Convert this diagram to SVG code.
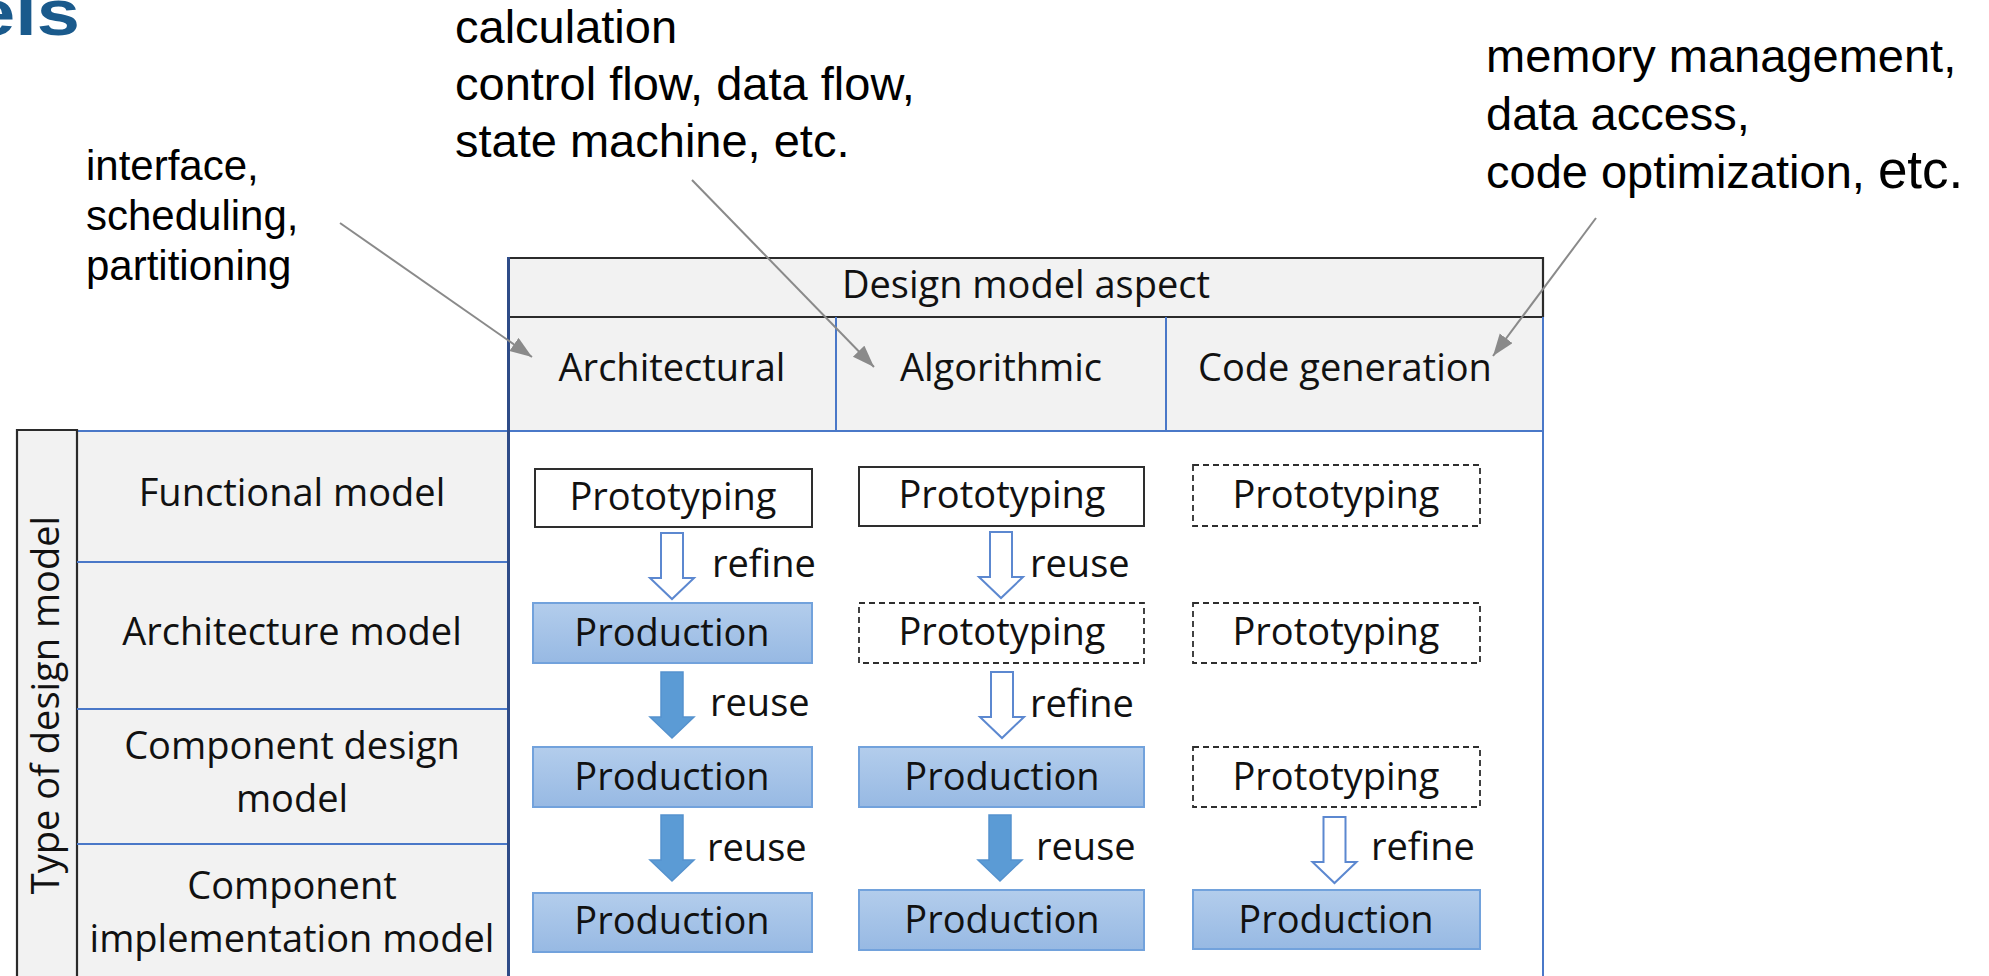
<svg xmlns="http://www.w3.org/2000/svg" width="1989" height="976" viewBox="0 0 1989 976">
  <style>
    .tbl { font-family: "Open Sans", "Noto Sans", sans-serif; font-size: 38px; fill: #111111; }
    .mid { text-anchor: middle; }
    .ann { font-family: "Liberation Sans", Arial, sans-serif; fill: #000000; }
    .cell { fill: #F2F2F2; stroke: none; }
    .blue-line { stroke: #4A78C8; stroke-width: 2; fill: none; }
    .dark-line { stroke: #2B2B2B; stroke-width: 2.2; fill: none; }
    .proto { fill: #FFFFFF; stroke: #2E2E2E; stroke-width: 2; }
    .proto-dash { fill: #FFFFFF; stroke: #2E2E2E; stroke-width: 1.8; stroke-dasharray: 6 4; }
    .prod { fill: url(#prodFill); stroke: #72A2DC; stroke-width: 2; }
    .hollow { fill: #FFFFFF; stroke: #5C88D0; stroke-width: 2; stroke-linejoin: miter; }
    .solid { fill: #5B9BD5; stroke: #5592CE; stroke-width: 1.5; }
    .callout { stroke: #8A8A8A; stroke-width: 2; fill: none; marker-end: url(#calloutHead); }
  </style>
  <defs>
    <linearGradient id="prodFill" x1="0" y1="0" x2="0" y2="1">
      <stop offset="0" stop-color="#B3CDEC"/>
      <stop offset="1" stop-color="#97B9E3"/>
    </linearGradient>
    <marker id="calloutHead" markerUnits="userSpaceOnUse" markerWidth="24" markerHeight="18" refX="22" refY="8" orient="auto">
      <path d="M0,0 L22,8 L0,16 Z" fill="#8A8A8A"/>
    </marker>
    <!-- block arrow pointing down, centred on x=0, top edge at y=0 -->
    <path id="blockArrow" d="M-11,0 H11 V45 H22 L0,66 L-22,45 H-11 Z"/>
  </defs>

  <rect x="0" y="0" width="1989" height="976" fill="#FFFFFF"/>

  <!-- title fragment -->
  <text x="-28" y="35" font-family="Liberation Sans, Arial, sans-serif" font-weight="bold" font-size="64" fill="#1A5A8C" textLength="108" lengthAdjust="spacingAndGlyphs">els</text>

  <!-- annotations -->
  <g id="note-algorithmic" class="ann" font-size="47">
    <text x="455" y="43">calculation</text>
    <text x="455" y="100">control flow, data flow,</text>
    <text x="455" y="157">state machine, etc.</text>
  </g>
  <g id="note-architectural" class="ann" font-size="42">
    <text x="86" y="180">interface,</text>
    <text x="86" y="230">scheduling,</text>
    <text x="86" y="280">partitioning</text>
  </g>
  <g id="note-codegen" class="ann" font-size="47">
    <text x="1486" y="72">memory management,</text>
    <text x="1486" y="130">data access,</text>
    <text x="1486" y="188">code optimization, <tspan font-size="53">etc.</tspan></text>
  </g>

  <!-- table: column header block -->
  <g id="header">
    <rect class="cell" x="509" y="258" width="1034" height="173"/>
    <line class="dark-line" x1="508" y1="258" x2="1544" y2="258"/>
    <line class="dark-line" x1="508" y1="317" x2="1544" y2="317"/>
    <line class="dark-line" x1="1543" y1="257" x2="1543" y2="317"/>
    <line class="blue-line" x1="836" y1="317" x2="836" y2="431"/>
    <line class="blue-line" x1="1166" y1="317" x2="1166" y2="431"/>
    <text class="tbl mid" x="1026" y="298">Design model aspect</text>
  </g>
  <g id="col-architectural"><text class="tbl mid" x="672" y="381">Architectural</text></g>
  <g id="col-algorithmic"><text class="tbl mid" x="1001" y="381">Algorithmic</text></g>
  <g id="col-codegen"><text class="tbl mid" x="1345" y="381">Code generation</text></g>

  <!-- table: row header block -->
  <g id="row-header">
    <rect class="cell" x="17" y="431" width="491" height="545"/>
    <line class="blue-line" x1="77" y1="431" x2="1543" y2="431"/>
    <line class="dark-line" x1="16" y1="430" x2="78" y2="430"/>
    <line class="dark-line" x1="17" y1="429" x2="17" y2="976"/>
    <line class="dark-line" x1="77" y1="429" x2="77" y2="976"/>
    <line class="blue-line" x1="77" y1="562" x2="508" y2="562"/>
    <line class="blue-line" x1="77" y1="709" x2="508" y2="709"/>
    <line class="blue-line" x1="77" y1="844" x2="508" y2="844"/>
    <text class="tbl mid" transform="translate(59,705) rotate(-90)">Type of design model</text>
  </g>
  <g id="row-functional"><text class="tbl mid" x="292" y="506">Functional model</text></g>
  <g id="row-architecture"><text class="tbl mid" x="292" y="645">Architecture model</text></g>
  <g id="row-component-design">
    <text class="tbl mid" x="292" y="759">Component design</text>
    <text class="tbl mid" x="292" y="812">model</text>
  </g>
  <g id="row-component-impl">
    <text class="tbl mid" x="292" y="899">Component</text>
    <text class="tbl mid" x="292" y="952">implementation model</text>
  </g>

  <!-- table outer edges of the body -->
  <line stroke="#2F4C88" stroke-width="3" x1="508.5" y1="257" x2="508.5" y2="976"/>
  <line class="blue-line" x1="1543" y1="317" x2="1543" y2="976"/>

  <!-- cells: Architectural column -->
  <g id="arch-functional">
    <rect class="proto" x="535" y="469" width="277" height="58"/>
    <text class="tbl mid" x="673" y="510">Prototyping</text>
  </g>
  <g id="arch-architecture">
    <rect class="prod" x="533" y="603" width="279" height="60"/>
    <text class="tbl mid" x="672" y="646">Production</text>
  </g>
  <g id="arch-component-design">
    <rect class="prod" x="533" y="747" width="279" height="60"/>
    <text class="tbl mid" x="672" y="790">Production</text>
  </g>
  <g id="arch-component-impl">
    <rect class="prod" x="533" y="893" width="279" height="59"/>
    <text class="tbl mid" x="672" y="934">Production</text>
  </g>

  <!-- cells: Algorithmic column -->
  <g id="algo-functional">
    <rect class="proto" x="859" y="467" width="285" height="59"/>
    <text class="tbl mid" x="1002" y="508">Prototyping</text>
  </g>
  <g id="algo-architecture">
    <rect class="proto-dash" x="859" y="603" width="285" height="60"/>
    <text class="tbl mid" x="1002" y="645">Prototyping</text>
  </g>
  <g id="algo-component-design">
    <rect class="prod" x="859" y="747" width="285" height="60"/>
    <text class="tbl mid" x="1002" y="790">Production</text>
  </g>
  <g id="algo-component-impl">
    <rect class="prod" x="859" y="890" width="285" height="60"/>
    <text class="tbl mid" x="1002" y="933">Production</text>
  </g>

  <!-- cells: Code generation column -->
  <g id="code-functional">
    <rect class="proto-dash" x="1193" y="465" width="287" height="61"/>
    <text class="tbl mid" x="1336" y="508">Prototyping</text>
  </g>
  <g id="code-architecture">
    <rect class="proto-dash" x="1193" y="603" width="287" height="60"/>
    <text class="tbl mid" x="1336" y="645">Prototyping</text>
  </g>
  <g id="code-component-design">
    <rect class="proto-dash" x="1193" y="747" width="287" height="60"/>
    <text class="tbl mid" x="1336" y="790">Prototyping</text>
  </g>
  <g id="code-component-impl">
    <rect class="prod" x="1193" y="890" width="287" height="59"/>
    <text class="tbl mid" x="1336" y="933">Production</text>
  </g>

  <!-- connectors -->
  <g id="connectors">
    <use href="#blockArrow" class="hollow" transform="translate(672,533)"/>
    <text class="tbl" x="712" y="577">refine</text>
    <use href="#blockArrow" class="solid" transform="translate(672,672)"/>
    <text class="tbl" x="710" y="716">reuse</text>
    <use href="#blockArrow" class="solid" transform="translate(672,815)"/>
    <text class="tbl" x="707" y="861">reuse</text>

    <use href="#blockArrow" class="hollow" transform="translate(1001,532)"/>
    <text class="tbl" x="1030" y="577">reuse</text>
    <use href="#blockArrow" class="hollow" transform="translate(1002,672)"/>
    <text class="tbl" x="1030" y="717">refine</text>
    <use href="#blockArrow" class="solid" transform="translate(1000,815)"/>
    <text class="tbl" x="1036" y="860">reuse</text>

    <use href="#blockArrow" class="hollow" transform="translate(1334.5,817)"/>
    <text class="tbl" x="1371" y="860">refine</text>

    <line class="callout" x1="340" y1="223" x2="532" y2="357"/>
    <line class="callout" x1="692" y1="180" x2="874" y2="367"/>
    <line class="callout" x1="1596" y1="218" x2="1493" y2="356"/>
  </g>
</svg>
